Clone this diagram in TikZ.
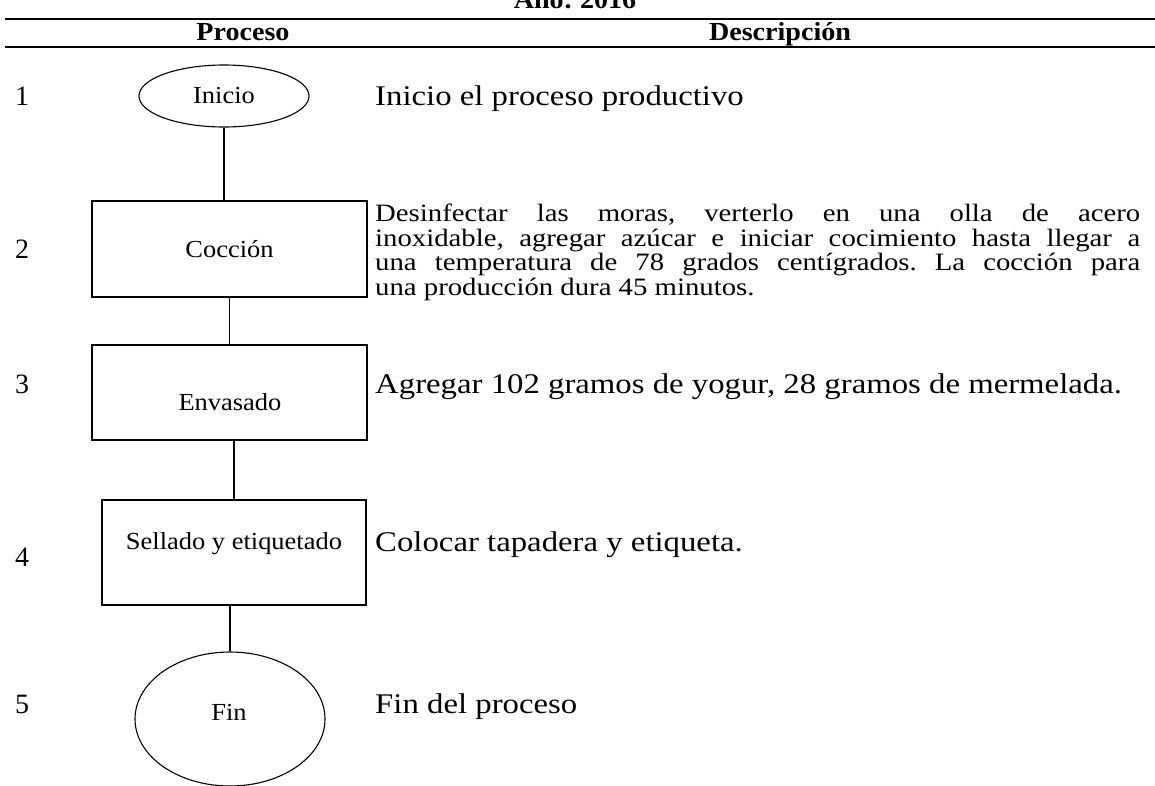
\documentclass[tikz,border=0pt]{standalone}
\usepackage{fontspec}
\setmainfont{Liberation Serif}
\newfontfamily\wideserif[FakeStretch=1.15]{Liberation Serif}
\newfontfamily\semiwideserif[FakeStretch=1.08]{Liberation Serif}
\usetikzlibrary{shapes.geometric}
\frenchspacing
\newcommand\mydescfont{\wideserif\fontsize{28.5}{32}\selectfont}
\newcommand\myparafont{\wideserif\fontsize{25}{24.5}\selectfont\lineskiplimit-100pt\relax}
\newcommand\mylblfont{\semiwideserif\fontsize{24.5}{28}\selectfont}
\newcommand\mynumfont{\rmfamily\fontsize{28}{30}\selectfont}
\newcommand\myheadfont{\semiwideserif\bfseries\fontsize{26}{28}\selectfont}
\begin{document}
\begin{tikzpicture}[x=1pt,y=-1pt,
  shapeline/.style={draw, line width=1.1pt},
  stepbox/.style={shapeline, rectangle, inner sep=0pt},
  oval/.style={shapeline, ellipse, inner sep=0pt},
  lbl/.style={font=\mylblfont, inner sep=0pt},
  num/.style={font=\mynumfont, inner sep=0pt},
  desc/.style={font=\mydescfont, anchor=base west, inner sep=0pt},
  para/.style={font=\myparafont, anchor=north west, inner sep=0pt, text width=765pt, align=justify},
  head/.style={font=\myheadfont, inner sep=0pt, anchor=base},
  rule/.style={line width=1.3pt},
  conn/.style={line width=1.1pt}]
\clip (0,0) rectangle (1155,785);
\fill[white] (0,0) rectangle (1155,785);

% header
\node[head] (anio) at (575,8) {Año: 2016};
\coordinate (r1a) at (5,19);
\coordinate (r1b) at (1155,19);
\coordinate (r2a) at (5,47);
\coordinate (r2b) at (1155,47);
\draw[rule] (r1a) -- (r1b);
\draw[rule] (r2a) -- (r2b);
\node[head] (hproc) at (243,40) {Proceso};
\node[head] (hdesc) at (780,40) {Descripción};

% numbers
\node[num] (n1) at (22,96) {1};
\node[num] (n2) at (22,249) {2};
\node[num] (n3) at (22,384) {3};
\node[num] (n4) at (22,557) {4};
\node[num] (n5) at (22,704) {5};

% shapes
\node[oval, lbl, minimum width=170pt, minimum height=62pt] (inicio) at (224,96) {Inicio};
\node[stepbox, lbl, minimum width=275pt, minimum height=96pt] (coccion) at (229.5,249) {Cocción};
\node[stepbox, minimum width=275pt, minimum height=95pt] (envasado) at (229.5,392.5) {};
\node[lbl] (tenv) at (230,402) {Envasado};
\node[stepbox, minimum width=264pt, minimum height=105pt] (sellado) at (234,552.5) {};
\node[lbl] (tsel) at (234,544) {Sellado y etiquetado};
\node[oval, minimum width=190pt, minimum height=134pt] (fin) at (230,719) {};
\node[lbl] (tfin) at (229,712) {Fin};

% connectors
\draw[conn] (inicio.south) -- (inicio.south |- coccion.north);
\draw[conn] (coccion.south) -- (envasado.north);
\draw[conn] (envasado.south -| sellado.north) -- (sellado.north);
\draw[conn] (sellado.south -| fin.north) -- (fin.north);

% descriptions
\node[desc] (d1) at (375,105) {Inicio el proceso productivo};
\node[para] (d2) at (375,204)
  {Desinfectar las moras, verterlo en una olla de acero\linebreak
   inoxidable, agregar azúcar e iniciar cocimiento hasta llegar a\linebreak
   una temperatura de 78 grados centígrados. La cocción para\linebreak
   una producción dura 45 minutos.};
\node[desc] (d3) at (375,393) {Agregar 102 gramos de yogur, 28 gramos de mermelada.};
\node[desc] (d4) at (375,551) {Colocar tapadera y etiqueta.};
\node[desc] (d5) at (375,713) {Fin del proceso};
\end{tikzpicture}
\end{document}
